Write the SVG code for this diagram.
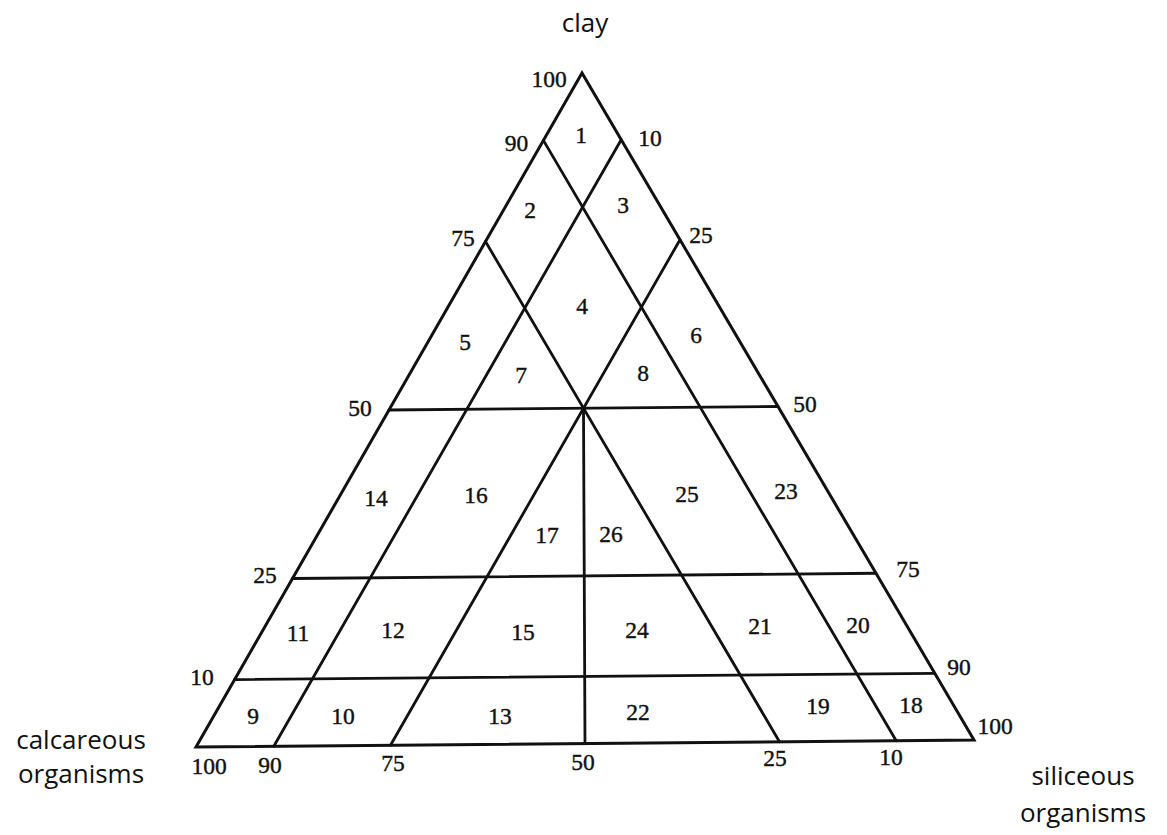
<svg xmlns="http://www.w3.org/2000/svg" width="1167" height="835" viewBox="0 0 1167 835">
<style>
.ln{stroke:#111;stroke-width:2.8;fill:none;stroke-linecap:round}
.edge{stroke:#111;stroke-width:3;fill:none;stroke-linejoin:miter}
.n{font-family:"Liberation Serif","Times New Roman",serif;font-size:23.5px;fill:#111;stroke:#111;stroke-width:0.4;text-anchor:middle}
.cat{font-family:"Open Sans","Noto Sans",sans-serif;font-size:26px;fill:#111;text-anchor:middle}
</style>
<rect width="1167" height="835" fill="#fff"/>
<g id="connectors">
<polygon class="edge" points="582,73 196,747 974,740"/>
<line class="ln" x1="543.4" y1="140.4" x2="896.2" y2="740.7"/>
<line class="ln" x1="621.2" y1="139.7" x2="273.8" y2="746.3"/>
<line class="ln" x1="485.5" y1="241.5" x2="779.5" y2="741.75"/>
<line class="ln" x1="680" y1="239.75" x2="390.5" y2="745.25"/>
<line class="ln" x1="389" y1="410" x2="778" y2="406.5"/>
<line class="ln" x1="292.5" y1="578.5" x2="876" y2="573.25"/>
<line class="ln" x1="234.6" y1="679.6" x2="934.8" y2="673.3"/>
<line class="ln" x1="583.5" y1="408.25" x2="585" y2="743.5"/>
</g>
<g id="axis-labels">
<text class="cat" x="585" y="32">clay</text>
<text class="cat" x="81" y="749">calcareous</text>
<text class="cat" x="81" y="783">organisms</text>
<text class="cat" x="1083" y="785">siliceous</text>
<text class="cat" x="1083" y="822">organisms</text>
</g>
<g id="left-ticks">
<text class="n" x="549" y="87">100</text>
<text class="n" x="516.5" y="151">90</text>
<text class="n" x="463" y="246">75</text>
<text class="n" x="360" y="416">50</text>
<text class="n" x="265" y="583">25</text>
<text class="n" x="202" y="685">10</text>
</g>
<g id="right-ticks">
<text class="n" x="650" y="146">10</text>
<text class="n" x="701" y="243">25</text>
<text class="n" x="805" y="412">50</text>
<text class="n" x="908" y="577">75</text>
<text class="n" x="959" y="675">90</text>
<text class="n" x="995" y="734">100</text>
</g>
<g id="bottom-ticks">
<text class="n" x="209" y="774">100</text>
<text class="n" x="270" y="773">90</text>
<text class="n" x="393" y="771">75</text>
<text class="n" x="583" y="770">50</text>
<text class="n" x="775" y="766">25</text>
<text class="n" x="891" y="765">10</text>
</g>
<g id="regions">
<g id="r1"><text class="n" x="581" y="143">1</text></g>
<g id="r2"><text class="n" x="530" y="218">2</text></g>
<g id="r3"><text class="n" x="623" y="213">3</text></g>
<g id="r4"><text class="n" x="582" y="314">4</text></g>
<g id="r5"><text class="n" x="465" y="350">5</text></g>
<g id="r6"><text class="n" x="696" y="343">6</text></g>
<g id="r7"><text class="n" x="521" y="383">7</text></g>
<g id="r8"><text class="n" x="643" y="381">8</text></g>
<g id="r14"><text class="n" x="376" y="506">14</text></g>
<g id="r16"><text class="n" x="476" y="503">16</text></g>
<g id="r17"><text class="n" x="547" y="543">17</text></g>
<g id="r26"><text class="n" x="611" y="542">26</text></g>
<g id="r25"><text class="n" x="687" y="502">25</text></g>
<g id="r23"><text class="n" x="786" y="499">23</text></g>
<g id="r11"><text class="n" x="298" y="641">11</text></g>
<g id="r12"><text class="n" x="393" y="638">12</text></g>
<g id="r15"><text class="n" x="523" y="640">15</text></g>
<g id="r24"><text class="n" x="637" y="638">24</text></g>
<g id="r21"><text class="n" x="760" y="634">21</text></g>
<g id="r20"><text class="n" x="858" y="633">20</text></g>
<g id="r9"><text class="n" x="253" y="724">9</text></g>
<g id="r10"><text class="n" x="343" y="724">10</text></g>
<g id="r13"><text class="n" x="500" y="724">13</text></g>
<g id="r22"><text class="n" x="638" y="720">22</text></g>
<g id="r19"><text class="n" x="818" y="714">19</text></g>
<g id="r18"><text class="n" x="911" y="713">18</text></g>
</g>
</svg>
